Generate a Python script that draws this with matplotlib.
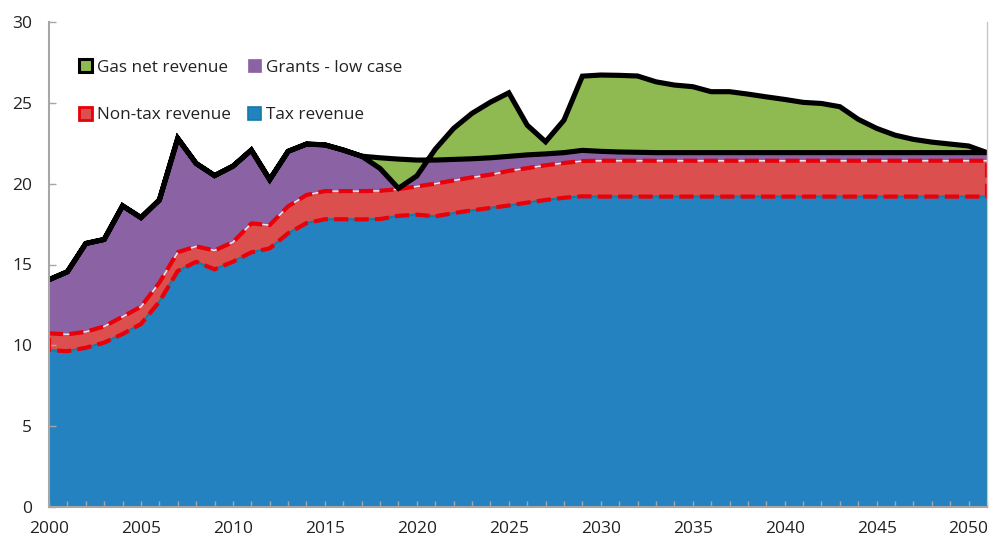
import numpy as np
import matplotlib
matplotlib.use("Agg")
import matplotlib.pyplot as plt
from matplotlib.patches import Patch

years = list(range(2000, 2052))

tax_revenue = [9.70, 9.64, 9.85, 10.17, 10.70, 11.32, 12.70, 14.60, 15.17, 14.70,
               15.17, 15.75, 16.00, 16.93, 17.56, 17.80, 17.80, 17.79, 17.81, 18.01,
               18.08, 17.98, 18.18, 18.35, 18.50, 18.65, 18.83, 18.99, 19.13, 19.22,
               19.20, 19.20, 19.20, 19.20, 19.20, 19.20, 19.20, 19.20, 19.20, 19.20,
               19.20, 19.20, 19.20, 19.20, 19.20, 19.20, 19.20, 19.20, 19.20, 19.20,
               19.20, 19.20]

non_tax_revenue = [1.04, 1.04, 0.99, 1.00, 1.07, 1.07, 1.18, 1.16, 0.95, 1.17,
                   1.21, 1.79, 1.44, 1.67, 1.74, 1.74, 1.74, 1.75, 1.75, 1.65,
                   1.75, 2.02, 2.02, 2.04, 2.06, 2.14, 2.13, 2.15, 2.15, 2.18,
                   2.22, 2.22, 2.22, 2.22, 2.22, 2.22, 2.22, 2.22, 2.22, 2.22,
                   2.22, 2.22, 2.22, 2.22, 2.22, 2.22, 2.22, 2.22, 2.22, 2.22,
                   2.22, 2.22]

grants_low = [3.32, 3.87, 5.46, 5.38, 6.86, 5.51, 5.11, 7.04, 5.13, 4.63,
              4.70, 4.54, 2.81, 3.40, 3.15, 2.86, 2.54, 2.16, 2.04, 1.86,
              1.63, 1.46, 1.30, 1.15, 1.04, 0.90, 0.82, 0.70, 0.64, 0.66,
              0.58, 0.54, 0.52, 0.50, 0.50, 0.50, 0.50, 0.50, 0.50, 0.50,
              0.50, 0.50, 0.50, 0.50, 0.50, 0.50, 0.50, 0.50, 0.50, 0.50,
              0.50, 0.50]

gas_net_revenue = [0, 0, 0, 0, 0, 0, 0, 0, 0, 0,
                   0, 0, 0, 0, 0, 0, 0, 0, -0.66, -1.81,
                   -0.98, 0.67, 1.92, 2.81, 3.44, 3.93, 1.84, 0.75, 2.01, 4.59,
                   4.72, 4.74, 4.72, 4.38, 4.18, 4.08, 3.77, 3.77, 3.62, 3.45,
                   3.29, 3.11, 3.04, 2.84, 2.06, 1.50, 1.08, 0.82, 0.65, 0.53,
                   0.41, 0.0]

series_labels = ["Gas net revenue", "Grants - low case", "Non-tax revenue", "Tax revenue"]
x_tick_labels = [str(y) for y in range(2000, 2051, 5)]

BLUE = "#2482C0"
BLUE_EDGE = "#0E7CA4"
RED_FILL = "#DC4F4F"
RED_LINE = "#E8000A"
PURPLE = "#8B63A4"
GREEN = "#8FBA51"

font = "Open Sans"
plt.rcParams['font.family'] = [font, 'DejaVu Sans']

x = np.array(years, dtype=float)
tax = np.array(tax_revenue)
c1 = tax
c2 = c1 + np.array(non_tax_revenue)
c3 = c2 + np.array(grants_low)
c4 = c3 + np.array(gas_net_revenue)

fig = plt.figure(figsize=(9.89, 5.41), dpi=100)
ax = fig.add_axes([49/989, 34/541, 938/989, 485/541])

ax.fill_between(x, 0, c1, color=BLUE, lw=0, zorder=1)
ax.fill_between(x, c1, c2, color=RED_FILL, lw=0, zorder=1)
ax.fill_between(x, c2, c3, color=PURPLE, lw=0, zorder=1)
ax.fill_between(x, c3, c4, color=GREEN, lw=0, zorder=1)

# tax outline
ax.plot(np.r_[x, x[::-1]], np.r_[c1, np.zeros_like(c1)], color=BLUE_EDGE, lw=1.5, zorder=2)
# grants bottom edge (light)
ax.plot(x, c2, color="#F2E8F5", lw=1.0, zorder=2)
# non-tax dashed outline
px = np.r_[x, x[::-1], x[:1]]
py = np.r_[c2, c1[::-1], c2[:1]]
ax.plot(px, py, color=RED_LINE, lw=3.0, dashes=(3.4, 1.5), zorder=3,
        solid_joinstyle='round', dash_joinstyle='round')
# gas outline
ax.plot(np.r_[x, x[::-1]], np.r_[c4, c3[::-1]], color="black", lw=3.7, zorder=4,
        solid_joinstyle='miter')

ax.set_xlim(2000, 2051)
ax.set_ylim(0, 30)
ax.set_xticks(range(2000, 2051, 5))
ax.set_xticklabels(x_tick_labels)
ax.set_xticks(years, minor=True)
ax.set_yticks(range(0, 31, 5))

grey = "#A6A6A6"
ax.spines["top"].set_visible(False)
ax.spines["left"].set_color(grey)
ax.spines["left"].set_linewidth(1.5)
ax.spines["bottom"].set_color(grey)
ax.spines["bottom"].set_linewidth(1.5)
ax.spines["right"].set_color("#C8C8C8")
ax.spines["right"].set_linewidth(1.0)
for s in ax.spines.values():
    s.set_zorder(5)

ax.tick_params(axis="x", which="both", direction="in", length=4, width=1, color=grey,
               labelsize=12.5, pad=10, labelcolor="#222222")
ax.tick_params(axis="y", which="major", direction="in", length=5, width=1, color=grey,
               labelsize=12.5, pad=12, labelcolor="#222222")
ax.tick_params(axis="y", which="minor", length=0)

handles = [
    Patch(facecolor=GREEN, edgecolor="black", linewidth=2.2),
    Patch(facecolor=RED_FILL, edgecolor=RED_LINE, linewidth=2.0),
    Patch(facecolor=PURPLE, edgecolor=PURPLE, linewidth=0.5),
    Patch(facecolor=BLUE, edgecolor=BLUE_EDGE, linewidth=1.2),
]
labels = [series_labels[0], series_labels[2], series_labels[1], series_labels[3]]
leg = ax.legend(handles, labels, ncol=2, loc="upper left",
                bbox_to_anchor=(0.032, 0.923), frameon=False, fontsize=12.3,
                handlelength=0.75, handleheight=0.75, handletextpad=0.3,
                labelspacing=1.85, columnspacing=1.0, borderpad=0, borderaxespad=0)
for t in leg.get_texts():
    t.set_color("#222222")
leg.set_zorder(6)

fig.savefig("out.png", dpi=100)
